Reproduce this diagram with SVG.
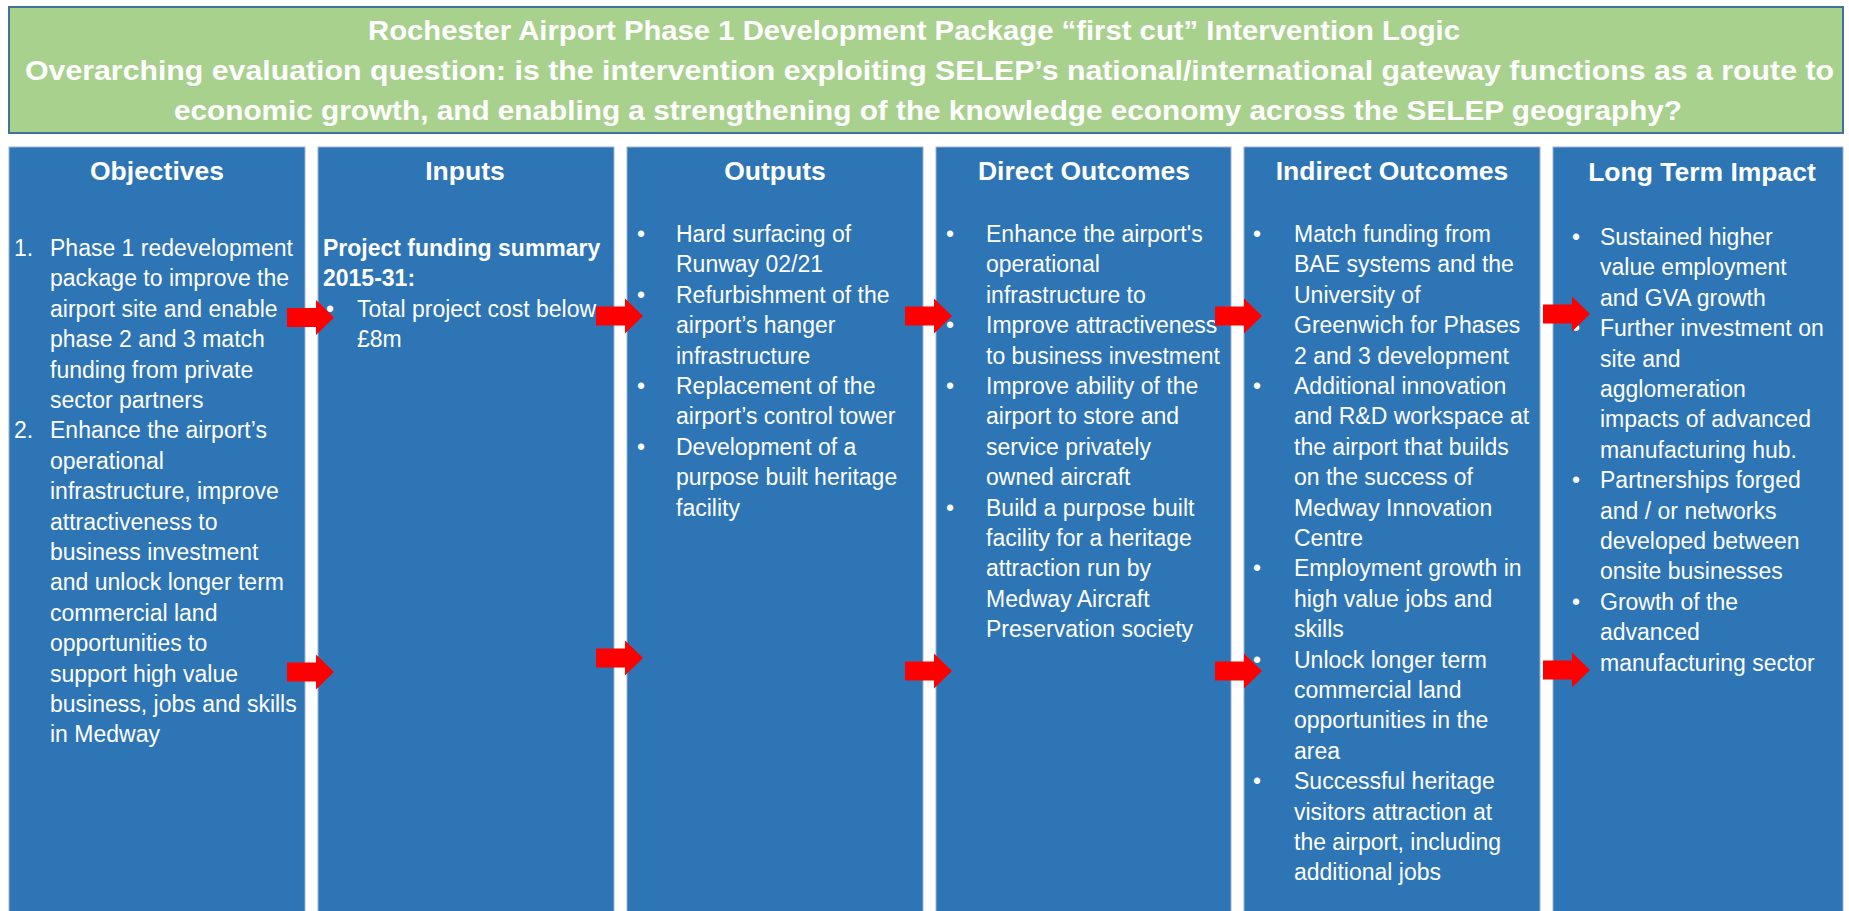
<svg xmlns="http://www.w3.org/2000/svg" width="1849" height="911" viewBox="0 0 1849 911">
<style>
  .bg { fill: #ffffff; }
  .hdr { fill: #A9D18E; stroke: #41719C; stroke-width: 2; }
  .col { fill: #2E75B6; stroke: #9DB3CC; stroke-width: 1; }
  .title { font-family: "Liberation Sans", Arial, sans-serif; font-weight: bold; font-size: 28px; fill: #ffffff; }
  .head { font-family: "Liberation Sans", Arial, sans-serif; font-weight: bold; font-size: 26.5px; fill: #ffffff; text-anchor: middle; }
  .body { font-family: "Liberation Sans", Arial, sans-serif; font-size: 23px; fill: #ffffff; }
  .bold { font-weight: bold; }
  .arrow { fill: #FF0000; }
</style>
<defs>
  <path id="arr" d="M0,-9.5 H29 V-17.5 L47,0 L29,17.5 V9.5 H0 Z"/>
</defs>
<rect class="bg" x="0" y="0" width="1849" height="911"/>

<g id="title">
  <rect class="hdr" x="9" y="7" width="1834" height="126"/>
  <text class="title" x="368" y="40" textLength="1092" lengthAdjust="spacingAndGlyphs">Rochester Airport Phase 1 Development Package “first cut” Intervention Logic</text>
  <text class="title" x="25" y="80" textLength="1809" lengthAdjust="spacingAndGlyphs">Overarching evaluation question: is the intervention exploiting SELEP’s national/international gateway functions as a route to</text>
  <text class="title" x="174" y="120" textLength="1508" lengthAdjust="spacingAndGlyphs">economic growth, and enabling a strengthening of the knowledge economy across the SELEP geography?</text>
</g>

<g id="objectives">
  <rect class="col" x="9" y="147" width="296" height="780"/>
  <text class="head" x="157" y="180">Objectives</text>
  <g class="body">
    <text x="14" y="256">1.</text>
    <text x="14" y="438.4">2.</text>
    <text x="50" y="256">Phase 1 redevelopment</text>
    <text x="50" y="286.4">package to improve the</text>
    <text x="50" y="316.8">airport site and enable</text>
    <text x="50" y="347.2">phase 2 and 3 match</text>
    <text x="50" y="377.6">funding from private</text>
    <text x="50" y="408">sector partners</text>
    <text x="50" y="438.4">Enhance the airport’s</text>
    <text x="50" y="468.8">operational</text>
    <text x="50" y="499.2">infrastructure, improve</text>
    <text x="50" y="529.6">attractiveness to</text>
    <text x="50" y="560">business investment</text>
    <text x="50" y="590.4">and unlock longer term</text>
    <text x="50" y="620.8">commercial land</text>
    <text x="50" y="651.2">opportunities to</text>
    <text x="50" y="681.6">support high value</text>
    <text x="50" y="712">business, jobs and skills</text>
    <text x="50" y="742.4">in Medway</text>
  </g>
</g>

<g id="inputs">
  <rect class="col" x="318" y="147" width="296" height="780"/>
  <text class="head" x="465" y="180">Inputs</text>
  <g class="body">
    <text class="bold" x="323" y="256">Project funding summary</text>
    <text class="bold" x="323" y="286.4">2015-31:</text>
    <text x="326" y="316.8">•</text>
    <text x="357" y="316.8">Total project cost below</text>
    <text x="357" y="347.2">£8m</text>
  </g>
</g>

<g id="outputs">
  <rect class="col" x="627" y="147" width="296" height="780"/>
  <text class="head" x="775" y="180">Outputs</text>
  <g class="body">
    <text x="637" y="242">•</text>
    <text x="676" y="242">Hard surfacing of</text>
    <text x="676" y="272.4">Runway 02/21</text>
    <text x="637" y="302.8">•</text>
    <text x="676" y="302.8">Refurbishment of the</text>
    <text x="676" y="333.2">airport’s hanger</text>
    <text x="676" y="363.6">infrastructure</text>
    <text x="637" y="394">•</text>
    <text x="676" y="394">Replacement of the</text>
    <text x="676" y="424.4">airport’s control tower</text>
    <text x="637" y="454.8">•</text>
    <text x="676" y="454.8">Development of a</text>
    <text x="676" y="485.2">purpose built heritage</text>
    <text x="676" y="515.6">facility</text>
  </g>
</g>

<g id="direct-outcomes">
  <rect class="col" x="936" y="147" width="295" height="780"/>
  <text class="head" x="1084" y="180">Direct Outcomes</text>
  <g class="body">
    <text x="946" y="242">•</text>
    <text x="986" y="242">Enhance the airport's</text>
    <text x="986" y="272.4">operational</text>
    <text x="986" y="302.8">infrastructure to</text>
    <text x="946" y="333.2">•</text>
    <text x="986" y="333.2">Improve attractiveness</text>
    <text x="986" y="363.6">to business investment</text>
    <text x="946" y="394">•</text>
    <text x="986" y="394">Improve ability of the</text>
    <text x="986" y="424.4">airport to store and</text>
    <text x="986" y="454.8">service privately</text>
    <text x="986" y="485.2">owned aircraft</text>
    <text x="946" y="515.6">•</text>
    <text x="986" y="515.6">Build a purpose built</text>
    <text x="986" y="546">facility for a heritage</text>
    <text x="986" y="576.4">attraction run by</text>
    <text x="986" y="606.8">Medway Aircraft</text>
    <text x="986" y="637.2">Preservation society</text>
  </g>
</g>

<g id="indirect-outcomes">
  <rect class="col" x="1244" y="147" width="296" height="780"/>
  <text class="head" x="1392" y="180">Indirect Outcomes</text>
  <g class="body">
    <text x="1253" y="242">•</text>
    <text x="1294" y="242">Match funding from</text>
    <text x="1294" y="272.4">BAE systems and the</text>
    <text x="1294" y="302.8">University of</text>
    <text x="1294" y="333.2">Greenwich for Phases</text>
    <text x="1294" y="363.6">2 and 3 development</text>
    <text x="1253" y="394">•</text>
    <text x="1294" y="394">Additional innovation</text>
    <text x="1294" y="424.4">and R&amp;D workspace at</text>
    <text x="1294" y="454.8">the airport that builds</text>
    <text x="1294" y="485.2">on the success of</text>
    <text x="1294" y="515.6">Medway Innovation</text>
    <text x="1294" y="546">Centre</text>
    <text x="1253" y="576.4">•</text>
    <text x="1294" y="576.4">Employment growth in</text>
    <text x="1294" y="606.8">high value jobs and</text>
    <text x="1294" y="637.2">skills</text>
    <text x="1253" y="667.6">•</text>
    <text x="1294" y="667.6">Unlock longer term</text>
    <text x="1294" y="698">commercial land</text>
    <text x="1294" y="728.4">opportunities in the</text>
    <text x="1294" y="758.8">area</text>
    <text x="1253" y="789.2">•</text>
    <text x="1294" y="789.2">Successful heritage</text>
    <text x="1294" y="819.6">visitors attraction at</text>
    <text x="1294" y="850">the airport, including</text>
    <text x="1294" y="880.4">additional jobs</text>
  </g>
</g>

<g id="long-term-impact">
  <rect class="col" x="1553" y="147" width="290" height="780"/>
  <text class="head" x="1702" y="181">Long Term Impact</text>
  <g class="body">
    <text x="1572" y="245">•</text>
    <text x="1600" y="245">Sustained higher</text>
    <text x="1600" y="275.4">value employment</text>
    <text x="1600" y="305.8">and GVA growth</text>
    <text x="1572" y="336.2">•</text>
    <text x="1600" y="336.2">Further investment on</text>
    <text x="1600" y="366.6">site and</text>
    <text x="1600" y="397">agglomeration</text>
    <text x="1600" y="427.4">impacts of advanced</text>
    <text x="1600" y="457.8">manufacturing hub.</text>
    <text x="1572" y="488.2">•</text>
    <text x="1600" y="488.2">Partnerships forged</text>
    <text x="1600" y="518.6">and / or networks</text>
    <text x="1600" y="549">developed between</text>
    <text x="1600" y="579.4">onsite businesses</text>
    <text x="1572" y="609.8">•</text>
    <text x="1600" y="609.8">Growth of the</text>
    <text x="1600" y="640.2">advanced</text>
    <text x="1600" y="670.6">manufacturing sector</text>
  </g>
</g>

<g id="connectors" class="arrow">
  <use href="#arr" transform="translate(287,317.5)"/>
  <use href="#arr" transform="translate(596,316)"/>
  <use href="#arr" transform="translate(905,316)"/>
  <use href="#arr" transform="translate(1215,316)"/>
  <use href="#arr" transform="translate(1543,314)"/>
  <use href="#arr" transform="translate(287,672)"/>
  <use href="#arr" transform="translate(596,658)"/>
  <use href="#arr" transform="translate(905,671)"/>
  <use href="#arr" transform="translate(1215,671)"/>
  <use href="#arr" transform="translate(1543,670)"/>
</g>
</svg>
